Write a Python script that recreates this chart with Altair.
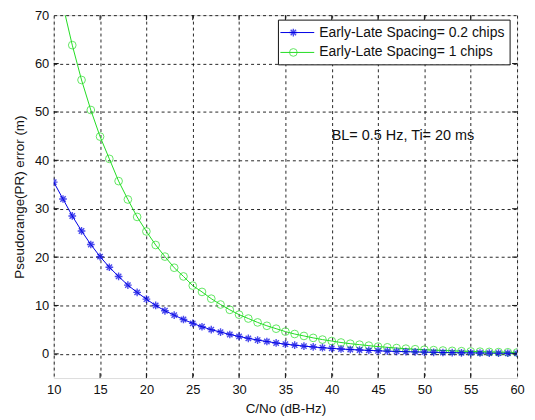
import altair as alt
import pandas as pd

# ---- data ----
cn0 = list(range(10, 61))
spacing_02 = [35.5, 32.0, 28.5, 25.4, 22.6, 20.1, 17.9, 16.0, 14.2, 12.7,
              11.3, 10.0, 8.9, 8.0, 7.1, 6.3, 5.6, 5.0, 4.5, 4.0,
              3.6, 3.2, 2.85, 2.55, 2.25, 2.0, 1.8, 1.6, 1.43, 1.27,
              1.13, 1.0, 0.9, 0.8, 0.71, 0.63, 0.56, 0.5, 0.45, 0.4,
              0.36, 0.32, 0.28, 0.25, 0.22, 0.2, 0.18, 0.16, 0.14, 0.13,
              0.11]
spacing_1 = [81.0, 72.0, 63.8, 56.6, 50.4, 44.9, 40.3, 35.7, 31.9, 28.3,
             25.3, 22.5, 20.1, 17.8, 16.0, 14.1, 12.8, 11.4, 10.2, 9.1,
             8.1, 7.3, 6.5, 5.8, 5.2, 4.6, 4.1, 3.7, 3.3, 2.95,
             2.65, 2.35, 2.1, 1.9, 1.7, 1.5, 1.35, 1.2, 1.07, 0.96,
             0.86, 0.77, 0.69, 0.62, 0.55, 0.5, 0.45, 0.4, 0.36, 0.32,
             0.29]
series_names = ["Early-Late Spacing= 0.2 chips", "Early-Late Spacing= 1 chips"]
series_colors = ["#0000e6", "#22dd22"]
x_ticks = [10, 15, 20, 25, 30, 35, 40, 45, 50, 55, 60]
y_ticks = [0, 10, 20, 30, 40, 50, 60, 70]
annotation = ["BL= 0.5 Hz, Ti= 20 ms"]
annot_x = [40]
annot_y = [45]

FONT = "Liberation Sans"
W, H = 466, 365

df = pd.DataFrame({
    "cn0": cn0 * 2,
    "err": spacing_02 + spacing_1,
    "series": [series_names[0]] * len(cn0) + [series_names[1]] * len(cn0),
})

xs = alt.Scale(domain=[10, 60], nice=False, zero=False)
ys = alt.Scale(domain=[-5, 70], nice=False, zero=False)

x_axis = alt.Axis(values=x_ticks, title="C/No (dB-Hz)", grid=True, gridColor="#000",
                  gridDash=[3, 3], gridOpacity=0.85, ticks=False, domain=False,
                  labelFont=FONT, labelFontSize=13, labelColor="#111", labelPadding=6,
                  titleFont=FONT, titleFontSize=13.5, titleFontWeight="normal",
                  titleColor="#111", titlePadding=5, labelFlush=False)
y_axis = alt.Axis(values=y_ticks, title="Pseudorange(PR) error (m)", grid=True,
                  gridColor="#000", gridDash=[3, 3], gridOpacity=0.85, ticks=False,
                  domain=False, labelFont=FONT, labelFontSize=13, labelColor="#111",
                  labelPadding=5, titleFont=FONT, titleFontSize=13.5,
                  titleFontWeight="normal", titleColor="#111", titlePadding=8,
                  labelFlush=False)

color = alt.Color("series:N", scale=alt.Scale(domain=series_names, range=series_colors),
                  legend=None)

base = alt.Chart(df)
grid = base.mark_point(opacity=0).encode(
    x=alt.X("cn0:Q", scale=xs, axis=x_axis),
    y=alt.Y("err:Q", scale=ys, axis=y_axis),
)

lines = base.mark_line(strokeWidth=1, clip=True).encode(
    x=alt.X("cn0:Q", scale=xs), y=alt.Y("err:Q", scale=ys), color=color)

star = "M-1,0L1,0M0,-1L0,1M-0.7,-0.7L0.7,0.7M-0.7,0.7L0.7,-0.7"
pts_blue = alt.Chart(df[df.series == series_names[0]]).mark_point(
    shape=star, size=60, filled=False, strokeWidth=1.4, clip=True,
    color=series_colors[0]).encode(x=alt.X("cn0:Q", scale=xs), y=alt.Y("err:Q", scale=ys))
pts_green = alt.Chart(df[df.series == series_names[1]]).mark_point(
    shape="circle", size=60, filled=False, strokeWidth=1, clip=True,
    color=series_colors[1]).encode(x=alt.X("cn0:Q", scale=xs), y=alt.Y("err:Q", scale=ys))

# inward ticks (MATLAB style)
xt = pd.DataFrame({"v": x_ticks[1:-1]})
yt = pd.DataFrame({"v": y_ticks[:-1]})
tick_layers = [
    alt.Chart(xt).mark_rule(color="#111").encode(x=alt.X("v:Q", scale=xs), y=alt.value(H), y2=alt.value(H - 5)),
    alt.Chart(xt).mark_rule(color="#111").encode(x=alt.X("v:Q", scale=xs), y=alt.value(0), y2=alt.value(5)),
    alt.Chart(yt).mark_rule(color="#111").encode(y=alt.Y("v:Q", scale=ys), x=alt.value(0), x2=alt.value(5)),
    alt.Chart(yt).mark_rule(color="#111").encode(y=alt.Y("v:Q", scale=ys), x=alt.value(W), x2=alt.value(W - 5)),
]

ann = alt.Chart(pd.DataFrame({"t": annotation, "x": annot_x, "y": annot_y})).mark_text(
    align="left", baseline="middle", font=FONT, fontSize=14.5, color="#111").encode(
    x=alt.X("x:Q", scale=xs), y=alt.Y("y:Q", scale=ys), text="t:N")

# legend (drawn manually)
leg_df = pd.DataFrame({"name": series_names, "color": series_colors})
leg_box = alt.Chart(leg_df.head(1)).mark_rect(fill="white", stroke="#111", strokeWidth=1).encode(
    x=alt.value(226), x2=alt.value(459), y=alt.value(5), y2=alt.value(50))
leg_layers = [leg_box]
for i, (nm, col) in enumerate(zip(series_names, series_colors)):
    row = leg_df.iloc[[i]]
    yy = 17.5 + 20 * i
    leg_layers.append(alt.Chart(row).mark_rule(color=col, strokeWidth=1).encode(
        x=alt.value(228), x2=alt.value(262), y=alt.value(yy)))
    if i == 0:
        leg_layers.append(alt.Chart(row).mark_point(shape=star, size=60, filled=False,
                          strokeWidth=1.4, color=col).encode(x=alt.value(241), y=alt.value(yy)))
    else:
        leg_layers.append(alt.Chart(row).mark_point(shape="circle", size=60, filled=False,
                          strokeWidth=1, color=col).encode(x=alt.value(241), y=alt.value(yy)))
    leg_layers.append(alt.Chart(row).mark_text(align="left", baseline="middle", font=FONT,
                      fontSize=14, color="#111").encode(x=alt.value(267), y=alt.value(yy),
                                                       text="name:N"))

chart = alt.layer(grid, lines, pts_green, pts_blue, *tick_layers, ann, *leg_layers).properties(
    width=W, height=H,
    autosize=alt.AutoSizeParams(type="none"),
    padding={"left": 46, "top": 6, "right": 10, "bottom": 40},
).configure_view(stroke="#222", strokeWidth=1, fill="white").configure(background="white")

chart.save("out.html", embed_options={"renderer": "svg", "actions": False})
